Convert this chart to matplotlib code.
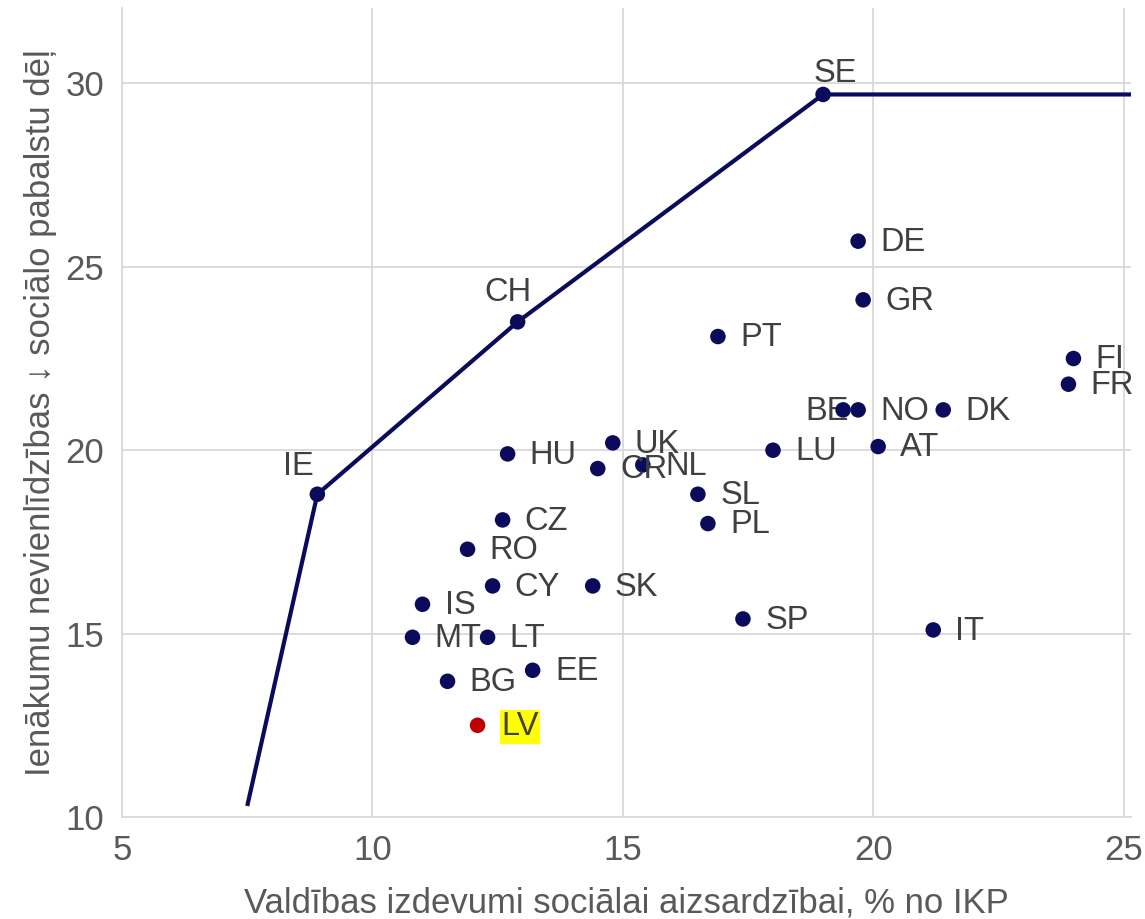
import matplotlib
matplotlib.use("Agg")
import matplotlib.pyplot as plt

plt.rcParams['font.family'] = ['Liberation Sans', 'DejaVu Sans']

countries = ["SE", "CH", "IE", "DE", "GR", "PT", "FI", "FR", "BE", "NO", "DK", "AT", "LU",
             "UK", "HU", "CR", "NL", "SL", "PL", "CZ", "RO", "CY", "SK", "IS", "SP", "IT",
             "MT", "LT", "EE", "BG", "LV"]
spending = [19.0, 12.9, 8.9, 19.7, 19.8, 16.9, 24.0, 23.9, 19.4, 19.7, 21.4, 20.1, 18.0,
            14.8, 12.7, 14.5, 15.4, 16.5, 16.7, 12.6, 11.9, 12.4, 14.4, 11.0, 17.4, 21.2,
            10.8, 12.3, 13.2, 11.5, 12.1]
reduction = [29.7, 23.5, 18.8, 25.7, 24.1, 23.1, 22.5, 21.8, 21.1, 21.1, 21.1, 20.1, 20.0,
             20.2, 19.9, 19.5, 19.6, 18.8, 18.0, 18.1, 17.3, 16.3, 16.3, 15.8, 15.4, 15.1,
             14.9, 14.9, 14.0, 13.7, 12.5]

frontier_x = [7.5, 8.9, 12.9, 19.0, 25.5]
frontier_y = [10.3, 18.8, 23.5, 29.7, 29.7]

xticks = [5, 10, 15, 20, 25]
yticks = [10, 15, 20, 25, 30]

navy = "#0B0B5C"
txt = "#404040"
grid = "#D9D9D9"
LBL = 23.5
AX = 25

fig = plt.figure(figsize=(11.45, 9.19), dpi=100)
ax = fig.add_axes([0.1066, 0.111, 0.8812, 0.880])
ax.set_xlim(5, 25.15)
ax.set_ylim(10, 32.05)

ax.set_xticks(xticks)
ax.set_yticks(yticks)
ax.grid(True, color=grid, linewidth=1.3)
ax.set_axisbelow(True)
for s in ["top", "right"]:
    ax.spines[s].set_visible(False)
for s in ["left", "bottom"]:
    ax.spines[s].set_color(grid)
    ax.spines[s].set_linewidth(1.3)
ax.tick_params(axis="x", length=0, labelsize=AX, labelcolor="#595959", pad=12)
ax.tick_params(axis="y", length=0, labelsize=AX, labelcolor="#595959", pad=13)

ax.plot(frontier_x, frontier_y, color=navy, linewidth=3, zorder=2, solid_capstyle='butt')

colors = ["#C00000" if c == "LV" else navy for c in countries]
ax.scatter(spending, reduction, s=125, c=colors, zorder=3, linewidths=0)

above = {"SE": (9, 15), "CH": (-7, 21), "IE": (-14, 20)}
for c, x, y in zip(countries, spending, reduction):
    if c in above:
        dx, dy = above[c]
        ax.annotate(c, (x, y), xytext=(dx, dy), textcoords="offset points",
                    ha="center", va="center", fontsize=LBL, color=txt, zorder=4)
    elif c == "BE":
        ax.annotate(c, (x, y), xytext=(4, -1), textcoords="offset points",
                    ha="right", va="center", fontsize=LBL, color=txt, zorder=2.5)
    elif c == "LV":
        ax.annotate(c, (x, y), xytext=(17, -1), textcoords="offset points",
                    ha="left", va="center", fontsize=LBL, color=txt, zorder=4,
                    bbox=dict(boxstyle="square,pad=0.05", facecolor="#FFFF00", edgecolor="none"))
    else:
        ax.annotate(c, (x, y), xytext=(16, -1), textcoords="offset points",
                    ha="left", va="center", fontsize=LBL, color=txt, zorder=4)

ax.set_xlabel("Valdības izdevumi sociālai aizsardzībai, % no IKP", fontsize=AX,
              color="#595959", labelpad=14)
ax.set_ylabel("Ienākumu nevienlīdzības ↓ sociālo pabalstu dēļ", fontsize=AX,
              color="#595959", labelpad=6)

fig.savefig("out.png", dpi=100)
